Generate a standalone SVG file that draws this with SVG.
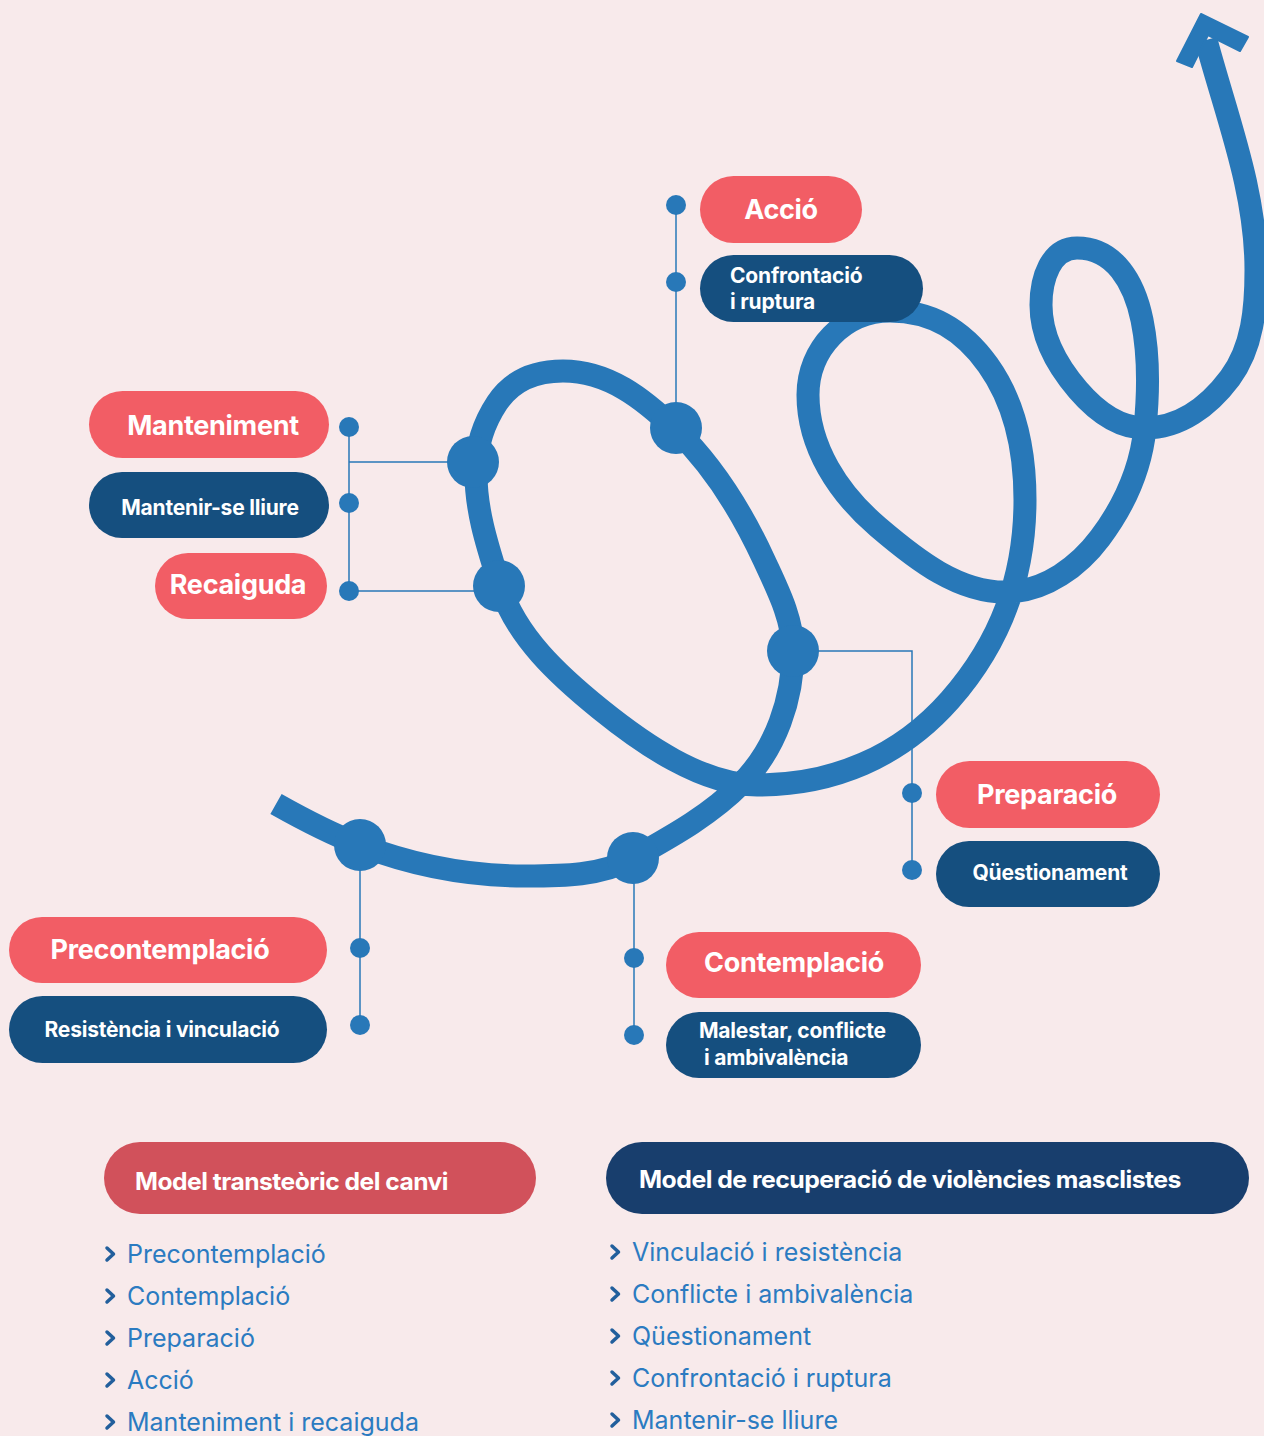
<svg xmlns="http://www.w3.org/2000/svg" width="1264" height="1436" viewBox="0 0 1264 1436">
<style>
.pr{fill:#F25D65}
.pn{fill:#154F7F}
.tb{font-family:Inter,"Liberation Sans",sans-serif;font-weight:700;fill:#FFFFFF}
.t1{font-size:27px;text-anchor:middle;letter-spacing:-0.3px}
.t2{font-size:21px;letter-spacing:-0.2px}
.tc{text-anchor:middle}
.cn{stroke:#2878B8;stroke-width:1.5;fill:none}
.dot{fill:#2878B8}
.li{font-family:Inter,"Liberation Sans",sans-serif;font-size:25px;fill:#2B7BC1}
.chev{fill:none;stroke:#225F9C;stroke-width:3.5;stroke-linecap:round;stroke-linejoin:round}
.hd{font-family:Inter,"Liberation Sans",sans-serif;font-weight:700;font-size:24px;fill:#FFFFFF;letter-spacing:-0.5px}
</style>
<rect width="1264" height="1436" fill="#F8EAEB"/>

<g id="spiral">
<path fill="none" stroke="#2878B8" stroke-width="23" stroke-linecap="butt" stroke-linejoin="round" d="M276,804 C303.7,819.6 330.4,833.6 360,845 C413,865.5 468,876 525,876 C562,876 600.8,876.1 633,858 C672.2,836 710.5,815 742,783 C775.6,748.9 793,699 793,651 C793,619 777.4,589.1 764,560 C741.7,511.8 714.2,466.6 676,430 C643.2,398.6 608.5,371 563,371 C535.1,371 512.3,379.8 497,403 C483.8,422.9 476.5,446 476,470 C475.2,510 488,548 500,586 C515.9,636.4 558.7,675.6 600,709 C642.9,743.7 702,785 757,785 C833,785 899.8,757 950,700 C1000.8,642.2 1025,577 1025,500 C1025,452 1015.8,403.9 988,365 C963.3,330.6 932.5,311 890,311 C844,311 808,349 808,395 C808,447 838.5,493.2 878,527 C916,559.5 960,594.5 1010,592 C1046,590.2 1078.4,566.8 1100,538 C1124,506 1141,467.8 1145,428 C1148.6,392.2 1149.2,355.3 1142,320 C1134.4,283 1114.8,248 1077,248 C1050.7,248 1041,278.7 1041,305 C1041,336.5 1057.5,366.1 1078,390 C1095.6,410.5 1118,428 1145,428 C1180,428 1209,406 1230,378 C1252.8,347.6 1256,308 1256,270 C1256,190 1226.8,117.6 1206,40"/>
<polygon fill="#2878B8" stroke="#2878B8" stroke-width="2" stroke-linejoin="round" points="1201,14 1248,37 1240,51 1208,35 1192,67 1177,61"/>
</g>

<g id="connectors">
<line class="cn" x1="676" y1="205" x2="676" y2="428"/>
<polyline class="cn" points="473,462 349,462 349,427 349,591 499,591"/>
<polyline class="cn" points="793,651 912,651 912,870"/>
<line class="cn" x1="360" y1="845" x2="360" y2="1025"/>
<line class="cn" x1="634" y1="858" x2="634" y2="1035"/>
<circle class="dot" cx="676" cy="205" r="10"/>
<circle class="dot" cx="676" cy="282" r="10"/>
<circle class="dot" cx="349" cy="427" r="10"/>
<circle class="dot" cx="349" cy="503" r="10"/>
<circle class="dot" cx="349" cy="591" r="10"/>
<circle class="dot" cx="912" cy="793" r="10"/>
<circle class="dot" cx="912" cy="870" r="10"/>
<circle class="dot" cx="360" cy="948" r="10"/>
<circle class="dot" cx="360" cy="1025" r="10"/>
<circle class="dot" cx="634" cy="958" r="10"/>
<circle class="dot" cx="634" cy="1035" r="10"/>
</g>

<g id="stage-points">
<circle class="dot" cx="360" cy="845" r="26"/>
<circle class="dot" cx="633" cy="858" r="26"/>
<circle class="dot" cx="793" cy="651" r="26"/>
<circle class="dot" cx="676" cy="428" r="26"/>
<circle class="dot" cx="473" cy="462" r="26"/>
<circle class="dot" cx="499" cy="586" r="26"/>
</g>

<g id="node-accio">
<rect class="pr" x="700" y="176" width="162" height="67" rx="33.5"/>
<text class="tb t1" x="781" y="219">Acció</text>
</g>
<g id="node-confrontacio">
<rect class="pn" x="700" y="255" width="223" height="67" rx="33.5"/>
<text class="tb t2" x="730" y="283">Confrontació</text>
<text class="tb t2" x="730" y="309">i ruptura</text>
</g>
<g id="node-manteniment">
<rect class="pr" x="89" y="391" width="240" height="67" rx="33.5"/>
<text class="tb t1" x="213" y="435">Manteniment</text>
</g>
<g id="node-mantenir">
<rect class="pn" x="89" y="472" width="240" height="66" rx="33"/>
<text class="tb t2 tc" x="210" y="515">Mantenir-se lliure</text>
</g>
<g id="node-recaiguda">
<rect class="pr" x="155" y="553" width="172" height="66" rx="33"/>
<text class="tb t1" x="238" y="594">Recaiguda</text>
</g>
<g id="node-preparacio">
<rect class="pr" x="936" y="761" width="224" height="67" rx="33.5"/>
<text class="tb t1" x="1047" y="804">Preparació</text>
</g>
<g id="node-questionament">
<rect class="pn" x="936" y="841" width="224" height="66" rx="33"/>
<text class="tb t2 tc" x="1050" y="880">Qüestionament</text>
</g>
<g id="node-precontemplacio">
<rect class="pr" x="9" y="917" width="318" height="66" rx="33"/>
<text class="tb t1" x="160" y="959">Precontemplació</text>
</g>
<g id="node-resistencia">
<rect class="pn" x="9" y="996" width="318" height="67" rx="33.5"/>
<text class="tb t2 tc" x="162" y="1037">Resistència i vinculació</text>
</g>
<g id="node-contemplacio">
<rect class="pr" x="666" y="932" width="255" height="66" rx="33"/>
<text class="tb t1" x="794" y="972">Contemplació</text>
</g>
<g id="node-malestar">
<rect class="pn" x="666" y="1012" width="255" height="66" rx="33"/>
<text class="tb t2" x="699" y="1038">Malestar, conflicte</text>
<text class="tb t2" x="704" y="1065">i ambivalència</text>
</g>

<g id="legend-transteoric">
<rect x="104" y="1142" width="432" height="72" rx="36" fill="#D1515B"/>
<text class="hd" x="135" y="1190" textLength="313" lengthAdjust="spacingAndGlyphs">Model transteòric del canvi</text>
<path class="chev" d="M107,1248 L113.5,1254 L107,1260"/>
<text class="li" x="127" y="1263">Precontemplació</text>
<path class="chev" d="M107,1290 L113.5,1296 L107,1302"/>
<text class="li" x="127" y="1305">Contemplació</text>
<path class="chev" d="M107,1332 L113.5,1338 L107,1344"/>
<text class="li" x="127" y="1347">Preparació</text>
<path class="chev" d="M107,1374 L113.5,1380 L107,1386"/>
<text class="li" x="127" y="1389">Acció</text>
<path class="chev" d="M107,1416 L113.5,1422 L107,1428"/>
<text class="li" x="127" y="1431">Manteniment i recaiguda</text>
</g>

<g id="legend-recuperacio">
<rect x="606" y="1142" width="643" height="72" rx="36" fill="#183E6D"/>
<text class="hd" x="639" y="1188" textLength="542" lengthAdjust="spacingAndGlyphs">Model de recuperació de violències masclistes</text>
<path class="chev" d="M612,1246 L618.5,1252 L612,1258"/>
<text class="li" x="632" y="1261">Vinculació i resistència</text>
<path class="chev" d="M612,1288 L618.5,1294 L612,1300"/>
<text class="li" x="632" y="1303">Conflicte i ambivalència</text>
<path class="chev" d="M612,1330 L618.5,1336 L612,1342"/>
<text class="li" x="632" y="1345">Qüestionament</text>
<path class="chev" d="M612,1372 L618.5,1378 L612,1384"/>
<text class="li" x="632" y="1387">Confrontació i ruptura</text>
<path class="chev" d="M612,1414 L618.5,1420 L612,1426"/>
<text class="li" x="632" y="1429">Mantenir-se lliure</text>
</g>
</svg>
